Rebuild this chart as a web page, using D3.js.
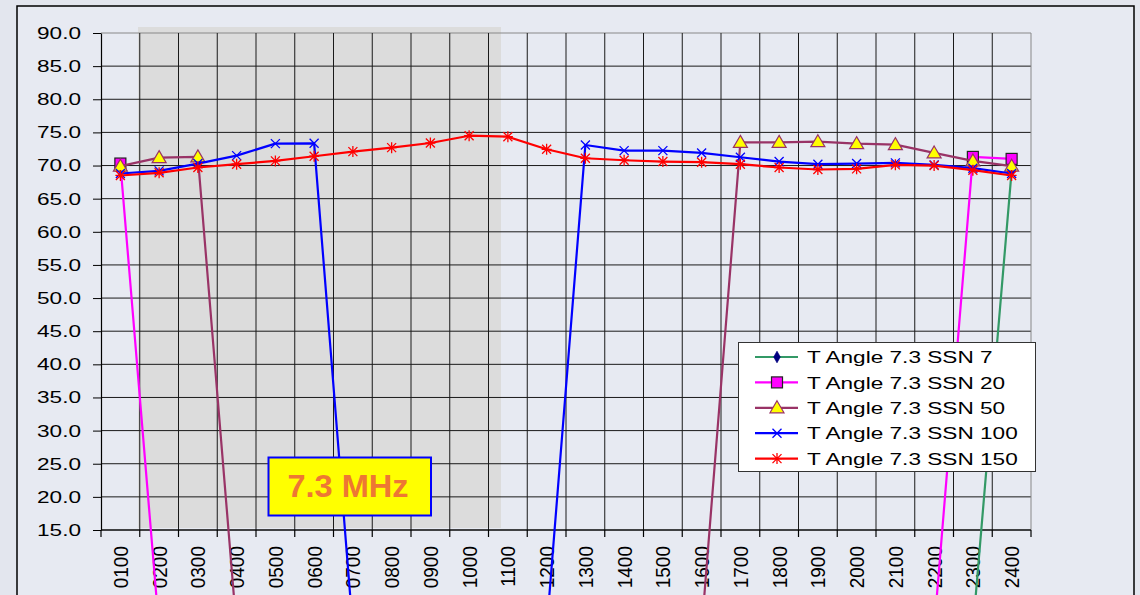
<!DOCTYPE html>
<html><head><meta charset="utf-8">
<script src="https://cdn.jsdelivr.net/npm/d3@7"></script>
<style>body{margin:0;background:#e4e7ef;}svg{display:block;font-family:Arial,"Liberation Sans",sans-serif;}</style>
</head><body><svg id="c" width="1140" height="595"></svg>
<script>
const hours = ["0100","0200","0300","0400","0500","0600","0700","0800","0900","1000","1100","1200","1300","1400","1500","1600","1700","1800","1900","2000","2100","2200","2300","2400"];
const yTicks = [15,20,25,30,35,40,45,50,55,60,65,70,75,80,85,90];
const ssn7   = [0,0,0,0,0,0,0,0,0,0,0,0,0,0,0,0,0,0,0,0,0,0,0,69.2];
const ssn20  = [70.3,0,0,0,0,0,0,0,0,0,0,0,0,0,0,0,0,0,0,0,0,0,71.3,71.0];
const ssn50  = [69.9,71.2,71.3,0,0,0,0,0,0,0,0,0,0,0,0,0,73.5,73.5,73.6,73.3,73.15,71.9,70.7,69.9];
const ssn100 = [68.8,69.2,70.3,71.5,73.3,73.35,0,0,0,0,0,0,73.1,72.25,72.25,71.9,71.25,70.6,70.2,70.3,70.4,70.1,69.6,68.8];
const ssn150 = [68.5,68.9,69.7,70.2,70.7,71.4,72.1,72.7,73.4,74.5,74.35,72.45,71.1,70.8,70.6,70.5,70.2,69.7,69.4,69.5,70.1,70.0,69.3,68.5];
const seriesNames = ["T Angle 7.3 SSN 7","T Angle 7.3 SSN 20","T Angle 7.3 SSN 50","T Angle 7.3 SSN 100","T Angle 7.3 SSN 150"];
const seriesVals = [ssn7, ssn20, ssn50, ssn100, ssn150];
const styles = [
  {color:"#339966", marker:"diamond"},
  {color:"#ff00ff", marker:"square"},
  {color:"#993366", marker:"triangle"},
  {color:"#0000ff", marker:"x"},
  {color:"#ff0000", marker:"star"}
];
const label = "7.3 MHz";

const SX = 1.33; // horizontal stretch of the original slide text
const svg = d3.select("#c");
const L=101, R=1031, T=33, B=530;
const x = d3.scaleBand().domain(hours).range([L,R]).padding(0);
const y = d3.scaleLinear().domain([15,90]).range([B,T]);

// background
svg.append("rect").attr("x",0).attr("y",0).attr("width",1140).attr("height",595).attr("fill","#e3e6ee");
svg.append("rect").attr("x",17).attr("y",6).attr("width",1117).attr("height",620).attr("fill","#e7eaf2").attr("stroke","#000").attr("stroke-width",1.5);

// shaded night region
svg.append("rect").attr("x",138).attr("y",27).attr("width",501-138).attr("height",528-27).attr("fill","#dcdcdc");

// gridlines
const g = svg.append("g");
yTicks.forEach(v=>{
  g.append("line").attr("x1",L).attr("x2",R).attr("y1",y(v)).attr("y2",y(v))
   .attr("stroke", v===90 ? "#888" : "#1a1a1a").attr("stroke-width",1);
});
const bounds = hours.map(h=>x(h)).concat([R]);
bounds.forEach((bx,i)=>{
  if(i===0) return;
  g.append("line").attr("x1",bx).attr("x2",bx).attr("y1",T).attr("y2",B)
   .attr("stroke", i===hours.length ? "#888" : "#1a1a1a").attr("stroke-width",1);
});

// y axis
const yAxis = d3.axisLeft(y).tickValues(yTicks).tickFormat(d3.format(".1f")).tickSize(8).tickSizeOuter(0).tickPadding(12);
const ya = svg.append("g").attr("transform",`translate(${L},0)`).call(yAxis);
ya.select(".domain").attr("stroke","#000").attr("stroke-width",1.2);
ya.selectAll(".tick line").attr("stroke","#000");
ya.selectAll("text").attr("font-size",17).attr("fill","#000").attr("font-family","Arial, 'Liberation Sans', sans-serif")
  .attr("x",0).attr("transform",`translate(-20,0) scale(${SX},1)`);

// x axis boundary ticks + domain
svg.append("line").attr("x1",L).attr("x2",R).attr("y1",B).attr("y2",B).attr("stroke","#000").attr("stroke-width",1.2);
bounds.forEach(bx=>{
  svg.append("line").attr("x1",bx).attr("x2",bx).attr("y1",B).attr("y2",B+7).attr("stroke","#000").attr("stroke-width",1.2);
});
const xAxis = d3.axisBottom(x).tickSize(0).tickSizeOuter(0);
const xa = svg.append("g").attr("transform",`translate(0,${B})`).call(xAxis);
xa.select(".domain").remove();
xa.selectAll("text").attr("font-size",19).attr("fill","#000")
  .attr("font-family","Arial, 'Liberation Sans', sans-serif")
  .attr("text-anchor","end").attr("transform","translate(0,16) rotate(-90) scale(1,1.1)")
  .attr("x",0).attr("y",0).attr("dy","0.36em");

// series
const line = d3.line().x((d,i)=>x(hours[i])+x.bandwidth()/2).y(d=>y(d));
function drawMarker(sel, type, color){
  if(type==="diamond"){
    sel.append("path").attr("d",d3.symbol(d3.symbolDiamond,40)()).attr("fill","#000080").attr("stroke","#000080").attr("stroke-width",0.5);
  } else if(type==="square"){
    sel.append("rect").attr("x",-5.5).attr("y",-5.5).attr("width",11).attr("height",11).attr("fill","#ff00ff").attr("stroke","#222").attr("stroke-width",1.2);
  } else if(type==="triangle"){
    sel.append("path").attr("d","M0,-7 L7,5 L-7,5 Z").attr("fill","#ffff00").attr("stroke","#993366").attr("stroke-width",1.2);
  } else if(type==="x"){
    sel.append("path").attr("d","M-4.5,-4.5L4.5,4.5M-4.5,4.5L4.5,-4.5").attr("stroke","#0000ff").attr("stroke-width",1.3);
  } else if(type==="star"){
    sel.append("path").attr("d","M-4.5,-4.5L4.5,4.5M-4.5,4.5L4.5,-4.5M0,-5.5L0,5.5M-5,0L5,0").attr("stroke","#ff0000").attr("stroke-width",1.3);
  }
}
seriesVals.forEach((vals,si)=>{
  const st = styles[si];
  const sg = svg.append("g");
  sg.append("path").attr("d",line(vals)).attr("fill","none").attr("stroke",st.color).attr("stroke-width",2.2).attr("stroke-linejoin","round");
  vals.forEach((v,i)=>{
    const m = sg.append("g").attr("transform",`translate(${x(hours[i])+x.bandwidth()/2},${y(v)})`);
    drawMarker(m, st.marker, st.color);
  });
});

// text box
svg.append("rect").attr("x",268.5).attr("y",457.5).attr("width",162.5).attr("height",58).attr("fill","#ffff00").attr("stroke","#0000ff").attr("stroke-width",2);
svg.append("text").attr("x",348).attr("y",497).attr("text-anchor","middle").attr("font-size",31).attr("font-weight","bold").attr("fill","#ee7733")
  .attr("transform","translate(348,0) scale(1.05,1) translate(-348,0)").text(label);

// legend
const lg = svg.append("g");
lg.append("rect").attr("x",738.5).attr("y",342.5).attr("width",297).attr("height",129).attr("fill","#fff").attr("stroke","#333").attr("stroke-width",1);
seriesNames.forEach((n,i)=>{
  const cy = 357 + i*25.4;
  const st = styles[i];
  lg.append("line").attr("x1",755).attr("x2",798).attr("y1",cy).attr("y2",cy).attr("stroke",st.color).attr("stroke-width",2.2);
  drawMarker(lg.append("g").attr("transform",`translate(777,${cy})`), st.marker, st.color);
  lg.append("text").attr("x",0).attr("y",0).attr("dy","0.36em").attr("font-size",17).attr("fill","#000")
    .attr("transform",`translate(807,${cy}) scale(${SX},1)`).text(n);
});
</script>
</body></html>
